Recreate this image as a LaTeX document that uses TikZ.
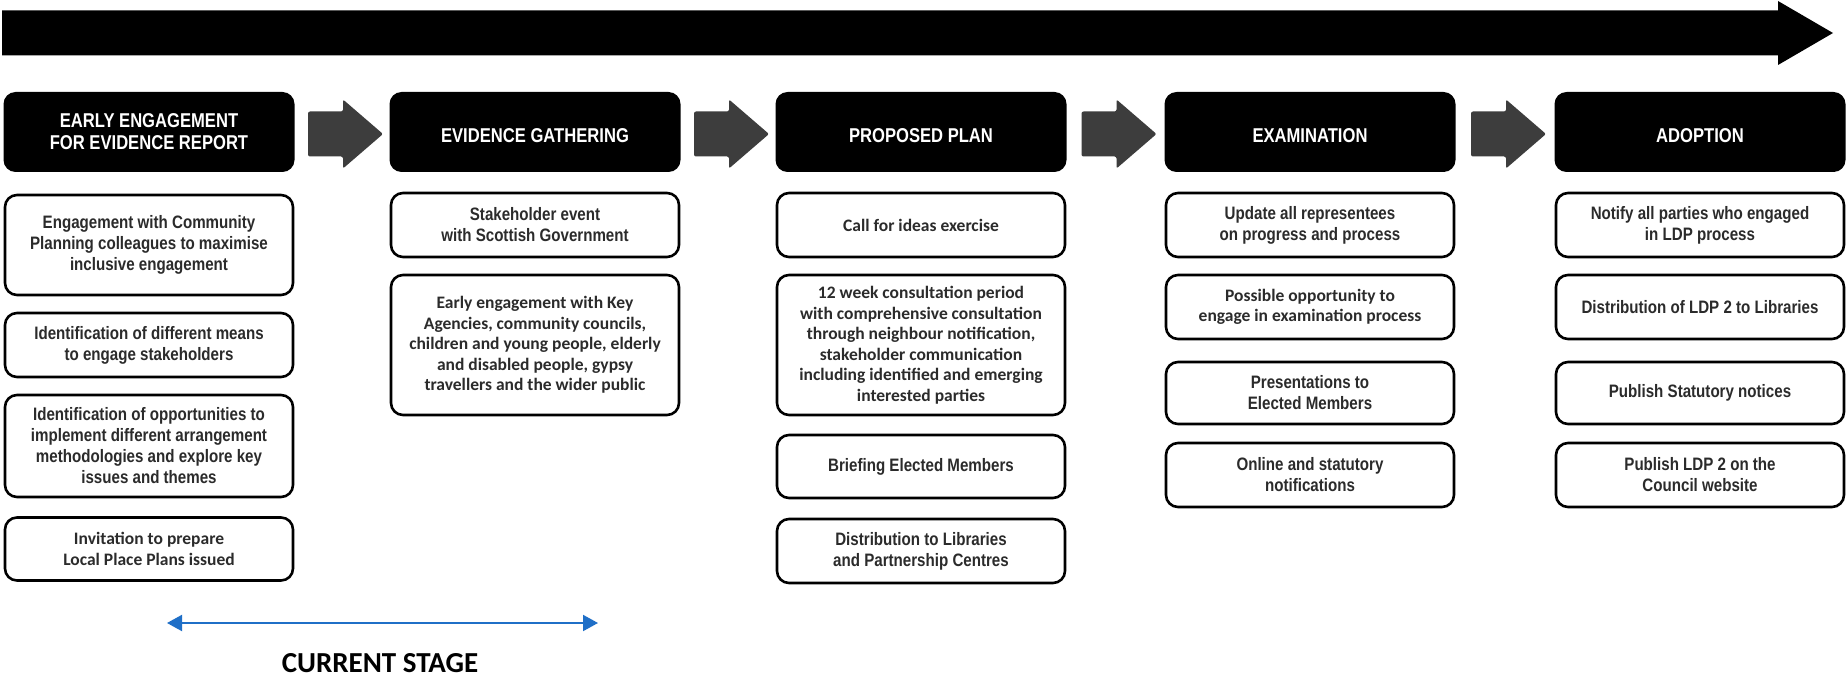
\documentclass[tikz,border=0pt]{standalone}
\usepackage{fontspec}
\usetikzlibrary{arrows.meta,calc}
\newfontfamily\nf[FakeStretch=0.84]{Liberation Sans}
\newfontfamily\hf[FakeStretch=0.83]{Liberation Sans}
\newfontfamily\cf{Carlito}
\definecolor{txt}{HTML}{2B2B2B}
\definecolor{garr}{HTML}{3D3D3D}
\definecolor{stageblue}{HTML}{1F6FC7}
\tikzset{
 hdr/.style={fill=black, rounded corners=12pt, minimum width=291pt, minimum height=80pt, inner sep=0pt, text=white, align=center, font=\hf\bfseries\fontsize{20}{22}\selectfont},
 bodybox/.style={draw=black, line width=2.6pt, fill=white, rounded corners=12pt, minimum width=288pt, inner sep=0pt, text=txt, align=center},
 nar/.style={font=\nf\bfseries\fontsize{18}{21}\selectfont},
 cal/.style={font=\cf\bfseries\fontsize{17.5}{20.5}\selectfont},
 garrow/.style={fill=garr, rounded corners=2pt},
 stagearrow/.style={draw=stageblue, line width=2pt, {Triangle[length=15pt,width=16pt]}-{Triangle[length=15pt,width=16pt]}},
}
\newcommand\blockarrow[2]{%
 \path ($(#1.east)!0.5!(#2.west)$) coordinate (tmpa);
 \fill[garrow] ($(tmpa)+(-34,-20.5)$) -- ++(35,0) -- ++(0,-12) -- ++(40,34.5) -- ++(-40,34.5) -- ++(0,-12) -- ++(-35,0) -- cycle;}
\newcommand\lowcap{\rule{0pt}{22pt}}
\begin{document}
\begin{tikzpicture}[x=1pt,y=-1pt]
\useasboundingbox (0,0) rectangle (1847,679);
\fill[white] (0,0) rectangle (1847,679);
% top timeline arrow
\fill[black] (2,10.5) -- (1778,10.5) -- (1778,1) -- (1833,33) -- (1778,65) -- (1778,55.5) -- (2,55.5) -- cycle;
% headers
\node[hdr] (h1) at (149,132) {EARLY ENGAGEMENT\\FOR EVIDENCE REPORT};
\node[hdr] (h2) at (535,132) {\lowcap EVIDENCE GATHERING};
\node[hdr] (h3) at (921,132) {\lowcap PROPOSED PLAN};
\node[hdr] (h4) at (1310,132) {\lowcap EXAMINATION};
\node[hdr] (h5) at (1700,132) {\lowcap ADOPTION};
\blockarrow{h1}{h2}
\blockarrow{h2}{h3}
\blockarrow{h3}{h4}
\blockarrow{h4}{h5}
% column 1
\node[bodybox, nar, minimum height=100pt] (c1a) at (149,245) {Engagement with Community\\Planning colleagues to maximise\\inclusive engagement};
\node[bodybox, nar, minimum height=64pt] (c1b) at (149,345) {Identification of different means\\to engage stakeholders};
\node[bodybox, nar, minimum height=102pt] (c1c) at (149,446) {Identification of opportunities to\\implement different arrangement\\methodologies and explore key\\issues and themes};
\node[bodybox, cal, minimum height=63pt] (c1d) at (149,549) {Invitation to prepare\\Local Place Plans issued};
% column 2
\node[bodybox, nar, minimum height=64pt] (c2a) at (535,225) {Stakeholder event\\with Scottish Government};
\node[bodybox, cal, minimum height=140pt] (c2b) at (535,345) {Early engagement with Key\\Agencies, community councils,\\children and young people, elderly\\and disabled people, gypsy\\travellers and the wider public};
% column 3
\node[bodybox, cal, minimum height=64pt] (c3a) at (921,225) {Call for ideas exercise};
\node[bodybox, cal, minimum height=140pt] (c3b) at (921,345) {12 week consultation period\\with comprehensive consultation\\through neighbour notification,\\stakeholder communication\\including identified and emerging\\interested parties};
\node[bodybox, nar, minimum height=63pt] (c3c) at (921,466.5) {Briefing Elected Members};
\node[bodybox, nar, minimum height=64pt] (c3d) at (921,551) {Distribution to Libraries\\and Partnership Centres};
% column 4
\node[bodybox, nar, minimum height=64pt] (c4a) at (1310,225) {Update all representees\\on progress and process};
\node[bodybox, cal, minimum height=64pt] (c4b) at (1310,307) {Possible opportunity to\\engage in examination process};
\node[bodybox, nar, minimum height=62pt] (c4c) at (1310,393) {Presentations to\\Elected Members};
\node[bodybox, nar, minimum height=64pt] (c4d) at (1310,475) {Online and statutory\\notifications};
% column 5
\node[bodybox, nar, minimum height=64pt] (c5a) at (1700,225) {Notify all parties who engaged\\in LDP process};
\node[bodybox, nar, minimum height=64pt] (c5b) at (1700,307) {Distribution of LDP 2 to Libraries};
\node[bodybox, nar, minimum height=62pt] (c5c) at (1700,393) {Publish Statutory notices};
\node[bodybox, nar, minimum height=64pt] (c5d) at (1700,475) {Publish LDP 2 on the\\Council website};
% current stage
\coordinate (csl) at (167,623);
\coordinate (csr) at (598,623);
\draw[stagearrow] (csl) -- (csr);
\node[font=\cf\bfseries\fontsize{29}{33}\selectfont, text=black] (cs) at (380,663) {CURRENT STAGE};
\end{tikzpicture}
\end{document}
